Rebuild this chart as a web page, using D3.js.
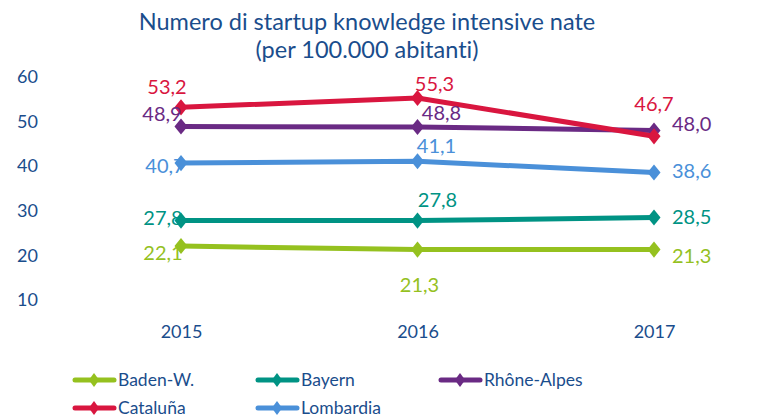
<!DOCTYPE html>
<html><head><meta charset="utf-8">
<script src="https://cdn.jsdelivr.net/npm/d3@7"></script>
<style>body{margin:0;background:#fff}svg{display:block}text{font-family:Lato,"Open Sans",sans-serif;font-variant-ligatures:none;font-feature-settings:"liga" 0}</style>
</head><body><svg id="c" width="761" height="419"></svg>
<script>
const years = ["2015","2016","2017"];
const seriesNames = ["Baden-W.","Bayern","Rhône-Alpes","Cataluña","Lombardia"];
const badenW = [22.1, 21.3, 21.3];
const bayern = [27.8, 27.8, 28.5];
const rhoneAlpes = [48.9, 48.8, 48.0];
const cataluna = [53.2, 55.3, 46.7];
const lombardia = [40.7, 41.1, 38.6];
const yTicks = [10,20,30,40,50,60];
const colors = ["#95c11f","#009384","#6a2a84","#d9163f","#4a90d9"];
const titleLines = ["Numero di startup knowledge intensive nate","(per 100.000 abitanti)"];

const values = [badenW, bayern, rhoneAlpes, cataluna, lombardia];
// label offsets [dx, dy, anchor] per series per year
const labelPos = [
  [[-18,14,"middle"],[2,42,"middle"],[18,13,"start"]],
  [[-18,4,"middle"],[20,-14,"middle"],[18,7,"start"]],
  [[-19,-6,"middle"],[24,-7,"middle"],[18,0,"start"]],
  [[-14,-13,"middle"],[17,-7,"middle"],[0,-25,"middle"]],
  [[-16,10,"middle"],[19,-8,"middle"],[18,6,"start"]]
];
const fg = "#1a4d8c";
const svg = d3.select("#c");
const x = d3.scalePoint().domain(years).range([181,654]);
const y = d3.scaleLinear().domain([10,60]).range([300,77]);

svg.selectAll("text.title").data(titleLines).join("text")
  .attr("x",367).attr("y",(d,i)=>30+i*28).attr("text-anchor","middle")
  .attr("font-size",23.5).attr("fill",fg).text(d=>d);

const yAxis = svg.append("g").attr("transform","translate(38,0)")
  .call(d3.axisLeft(y).tickValues(yTicks).tickSize(0).tickPadding(0).tickFormat(d3.format("d")));
yAxis.select(".domain").remove();
yAxis.selectAll("text").attr("font-size",18).attr("fill",fg).attr("font-family","Lato,sans-serif");

const xAxis = svg.append("g").attr("transform","translate(0,325)")
  .call(d3.axisBottom(x).tickSize(0).tickPadding(0));
xAxis.select(".domain").remove();
xAxis.selectAll("text").attr("font-size",18).attr("fill",fg).attr("font-family","Lato,sans-serif");

const line = d3.line().x((d,i)=>x(years[i])).y(d=>y(d));
const diamond = d3.symbol().type(d3.symbolDiamond).size(75);
const legDiamond = d3.symbol().type(d3.symbolDiamond).size(55);
const fmt = v => d3.format(".1f")(v).replace(".",",");

values.forEach((vals,s)=>{
  const g = svg.append("g");
  g.append("path").attr("d",line(vals)).attr("fill","none").attr("stroke",colors[s]).attr("stroke-width",5).attr("stroke-linejoin","round");
  g.selectAll("path.m").data(vals).join("path").attr("class","m")
    .attr("transform",(d,i)=>`translate(${x(years[i])},${y(d)}) scale(1.4,1)`)
    .attr("d",diamond).attr("fill",colors[s]);
});
values.forEach((vals,s)=>{
  svg.append("g").selectAll("text").data(vals).join("text")
    .attr("x",(d,i)=>x(years[i])+labelPos[s][i][0])
    .attr("y",(d,i)=>y(d)+labelPos[s][i][1])
    .attr("text-anchor",(d,i)=>labelPos[s][i][2])
    .attr("font-size",20).attr("fill",colors[s]).text(d=>fmt(d));
});

// legend
const legPos = [[74,380],[257,380],[440,380],[74,408],[257,408]];
seriesNames.forEach((n,s)=>{
  const [lx,ly]=legPos[s];
  const g = svg.append("g").attr("transform",`translate(${lx},${ly})`);
  g.append("line").attr("x1",1).attr("x2",40).attr("stroke",colors[s]).attr("stroke-width",5).attr("stroke-linecap","round");
  g.append("path").attr("d",legDiamond).attr("transform","translate(20,0) scale(1.3,1)").attr("fill",colors[s]);
  g.append("text").attr("x",44).attr("y",6).attr("font-size",17.5).attr("fill",fg).text(n);
});
</script></body></html>
